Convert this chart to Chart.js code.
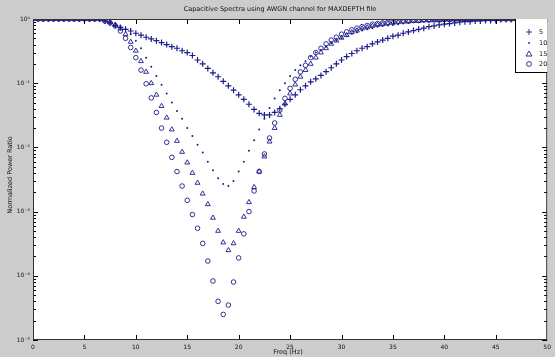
<!DOCTYPE html>
<html>
<head>
<meta charset="utf-8">
<script src="https://cdn.jsdelivr.net/npm/chart.js@4.4.0/dist/chart.umd.min.js"></script>
<style>
  html, body { margin: 0; padding: 0; background: #cccccc; }
</style>
</head>
<body>
<canvas id="specChart" width="555" height="357"></canvas>
<script>
// x positions (lag / frequency index)
const freq = [
  0, 0.5, 1, 1.5, 2, 2.5, 3, 3.5, 4, 4.5,
  5, 5.5, 6, 6.5, 7, 7.5, 8, 8.5, 9, 9.5,
  10, 10.5, 11, 11.5, 12, 12.5, 13, 13.5, 14, 14.5,
  15, 15.5, 16, 16.5, 17, 17.5, 18, 18.5, 19, 19.5,
  20, 20.5, 21, 21.5, 22, 22.5, 23, 23.5, 24, 24.5,
  25, 25.5, 26, 26.5, 27, 27.5, 28, 28.5, 29, 29.5,
  30, 30.5, 31, 31.5, 32, 32.5, 33, 33.5, 34, 34.5,
  35, 35.5, 36, 36.5, 37, 37.5, 38, 38.5, 39, 39.5,
  40, 40.5, 41, 41.5, 42, 42.5, 43, 43.5, 44, 44.5,
  45, 45.5, 46, 46.5, 47, 47.5, 48, 48.5, 49, 49.5,
  50
];

const snr5 = [
  1, 1, 1, 1, 1, 1, 1, 1, 1, 1,
  1, 1, 1, 1, 0.93, 0.87, 0.79, 0.74, 0.69, 0.65,
  0.60, 0.56, 0.52, 0.49, 0.46, 0.43, 0.40, 0.37, 0.35, 0.32,
  0.30, 0.27, 0.23, 0.20, 0.17, 0.145, 0.126, 0.107, 0.091, 0.078,
  0.066, 0.056, 0.047, 0.039, 0.034, 0.032, 0.032, 0.035, 0.040, 0.047,
  0.056, 0.066, 0.079, 0.091, 0.105, 0.117, 0.132, 0.151, 0.174, 0.20,
  0.23, 0.26, 0.29, 0.32, 0.35, 0.37, 0.41, 0.44, 0.47, 0.50,
  0.54, 0.56, 0.60, 0.63, 0.66, 0.69, 0.72, 0.76, 0.78, 0.81,
  0.83, 0.85, 0.87, 0.89, 0.91, 0.91, 0.93, 0.93, 0.95, 0.95,
  0.95, 0.98, 0.98, 0.98, 0.98, 0.98, 1, 1, 1, 1,
  1
];

const snr10 = [
  1, 1, 1, 1, 1, 1, 1, 1, 1, 1,
  1, 1, 1, 1, 0.95, 0.91, 0.85, 0.78, 0.69, 0.58,
  0.46, 0.35, 0.25, 0.18, 0.13, 0.095, 0.069, 0.050, 0.037, 0.028,
  0.020, 0.015, 0.011, 0.0083, 0.006, 0.0044, 0.0033, 0.0027, 0.0025, 0.003,
  0.0042, 0.006, 0.0089, 0.0129, 0.019, 0.028, 0.041, 0.058, 0.078, 0.10,
  0.13, 0.16, 0.19, 0.22, 0.26, 0.30, 0.33, 0.37, 0.42, 0.46,
  0.50, 0.54, 0.59, 0.62, 0.66, 0.69, 0.72, 0.76, 0.78, 0.79,
  0.81, 0.83, 0.85, 0.87, 0.89, 0.89, 0.91, 0.91, 0.93, 0.93,
  0.95, 0.95, 0.95, 0.95, 0.95, 0.95, 0.98, 0.98, 0.98, 0.98,
  0.98, 0.98, 1, 1, 1, 1, 1, 1, 1, 1,
  1
];

const snr15 = [
  1, 1, 1, 1, 1, 1, 1, 1, 1, 1,
  1, 1, 1, 1, 0.95, 0.89, 0.81, 0.71, 0.58, 0.44,
  0.32, 0.22, 0.15, 0.10, 0.066, 0.044, 0.029, 0.019, 0.0126, 0.0085,
  0.0058, 0.004, 0.0028, 0.0019, 0.0013, 0.0008, 0.0005, 0.00033, 0.00025, 0.00032,
  0.0005, 0.00083, 0.0014, 0.0024, 0.0042, 0.0072, 0.0123, 0.02, 0.032, 0.048,
  0.069, 0.095, 0.126, 0.16, 0.20, 0.25, 0.30, 0.35, 0.41, 0.46,
  0.51, 0.56, 0.62, 0.66, 0.71, 0.74, 0.78, 0.81, 0.83, 0.85,
  0.87, 0.89, 0.91, 0.91, 0.93, 0.93, 0.95, 0.95, 0.95, 0.95,
  0.98, 0.98, 0.98, 0.98, 0.98, 0.98, 1, 1, 1, 1,
  1, 1, 1, 1, 1, 1, 1, 1, 1, 1,
  1
];

const snr20 = [
  1, 1, 1, 1, 1, 1, 1, 1, 1, 1,
  1, 1, 1, 1, 0.93, 0.87, 0.78, 0.65, 0.50, 0.36,
  0.25, 0.16, 0.098, 0.059, 0.035, 0.020, 0.012, 0.007, 0.0042, 0.0025,
  0.0015, 0.0009, 0.00055, 0.00032, 0.00017, 0.000083, 0.00004, 0.000025, 0.000035, 0.00008,
  0.00019, 0.00045, 0.001, 0.0021, 0.0042, 0.0079, 0.014, 0.024, 0.038, 0.058,
  0.083, 0.115, 0.15, 0.19, 0.25, 0.30, 0.35, 0.41, 0.47, 0.52,
  0.58, 0.63, 0.68, 0.72, 0.76, 0.79, 0.83, 0.85, 0.87, 0.89,
  0.91, 0.93, 0.93, 0.95, 0.95, 0.95, 0.98, 0.98, 0.98, 0.98,
  0.98, 0.98, 1, 1, 1, 1, 1, 1, 1, 1,
  1, 1, 1, 1, 1, 1, 1, 1, 1, 1,
  1
];

const seriesNames = ['5', '10', '15', '20'];
const xTicks = [0, 5, 10, 15, 20, 25, 30, 35, 40, 45, 50];
const yTicks = [1, 0.1, 0.01, 0.001, 0.0001, 0.00001];
const yTickLabels = ['10\u2070', '10\u207B\u00B9', '10\u207B\u00B2', '10\u207B\u00B3', '10\u207B\u2074', '10\u207B\u2075'];

const markColor = '#1c1c8a';

function toPoints(values) {
  return freq.map((f, i) => ({ x: f, y: values[i] }));
}

// MATLAB-ish frame: grey figure, white axes, inward ticks, boxed legend
const matlabFrame = {
  id: 'matlabFrame',
  beforeDraw(chart) {
    const { ctx, chartArea: a } = chart;
    ctx.save();
    ctx.fillStyle = '#cccccc';
    ctx.fillRect(0, 0, chart.width, chart.height);
    ctx.fillStyle = '#ffffff';
    ctx.fillRect(a.left, a.top, a.right - a.left, a.bottom - a.top);
    ctx.restore();
  },
  afterDraw(chart) {
    const { ctx, chartArea: a, scales } = chart;
    const x = scales.x, y = scales.y;
    ctx.save();
    ctx.strokeStyle = '#000';
    ctx.lineWidth = 1;
    const seg = (x1, y1, x2, y2) => { ctx.beginPath(); ctx.moveTo(x1, y1); ctx.lineTo(x2, y2); ctx.stroke(); };

    xTicks.slice(1, -1).forEach(v => {
      const px = Math.round(x.getPixelForValue(v)) + 0.5;
      seg(px, a.bottom, px, a.bottom - 5);
      seg(px, a.top, px, a.top + 5);
    });
    for (let d = 0; d > -5; d--) {
      for (let m = 1; m < 10; m++) {
        const v = m * Math.pow(10, d - 1);
        if (v < 1e-5) continue;
        const py = Math.round(y.getPixelForValue(v)) + 0.5;
        const len = m === 1 ? 5 : 3;
        seg(a.left, py, a.left + len, py);
        seg(a.right, py, a.right - len, py);
      }
    }

    // box
    ctx.strokeStyle = '#333';
    ctx.strokeRect(a.left + 0.5, a.top + 0.5, a.right - a.left - 1, a.bottom - a.top - 1);

    // title and axis labels
    ctx.fillStyle = '#111';
    ctx.font = '6.5px "DejaVu Sans"';
    ctx.textAlign = 'center';
    ctx.textBaseline = 'middle';
    ctx.fillText('Capacitive Spectra using AWGN channel for MAXDEPTH file', 280, 9);
    ctx.fillText('Freq (Hz)', 288, 352);
    ctx.save();
    ctx.translate(10, 175);
    ctx.rotate(-Math.PI / 2);
    ctx.fillText('Normalized Power Ratio', 0, 0);
    ctx.restore();

    // legend
    const lx = 515, ly = a.top, lw = a.right - lx, lh = 53;
    ctx.fillStyle = '#ffffff';
    ctx.fillRect(lx, ly, lw, lh);
    ctx.strokeStyle = '#000';
    seg(lx + 0.5, ly, lx + 0.5, ly + lh);
    seg(lx, ly + lh + 0.5, a.right, ly + lh + 0.5);
    const rows = [32, 43, 54, 64];
    chart.data.datasets.forEach((ds, i) => {
      const cy = rows[i];
      ctx.strokeStyle = markColor;
      ctx.fillStyle = markColor;
      ctx.lineWidth = 0.9;
      const cx = 529;
      if (ds.pointStyle === 'cross') {
        seg(cx - 3, cy, cx + 3, cy);
        seg(cx, cy - 3, cx, cy + 3);
      } else if (ds.pointStyle === 'triangle') {
        ctx.beginPath();
        ctx.moveTo(cx, cy - 3); ctx.lineTo(cx + 3, cy + 2); ctx.lineTo(cx - 3, cy + 2); ctx.closePath();
        ctx.stroke();
      } else if (ds.pointRadius <= 1.2) {
        ctx.beginPath(); ctx.arc(cx, cy, 0.9, 0, Math.PI * 2); ctx.fill();
      } else {
        ctx.beginPath(); ctx.arc(cx, cy, 2.4, 0, Math.PI * 2); ctx.stroke();
      }
      ctx.fillStyle = '#111';
      ctx.font = '6.5px "DejaVu Sans"';
      ctx.textAlign = 'left';
      ctx.fillText(ds.label, 539, cy);
    });
    ctx.restore();
  }
};

const ctx = document.getElementById('specChart').getContext('2d');
const specChart = new Chart(ctx, {
  type: 'scatter',
  data: {
    datasets: [
      { label: seriesNames[0], data: toPoints(snr5), pointStyle: 'cross', pointRadius: 3, borderWidth: 1.2 },
      { label: seriesNames[1], data: toPoints(snr10), pointStyle: 'circle', pointRadius: 1, borderWidth: 0, backgroundColor: markColor },
      { label: seriesNames[2], data: toPoints(snr15), pointStyle: 'triangle', pointRadius: 2.8, borderWidth: 0.9, backgroundColor: 'rgba(0,0,0,0)' },
      { label: seriesNames[3], data: toPoints(snr20), pointStyle: 'circle', pointRadius: 2.3, borderWidth: 0.9, backgroundColor: 'rgba(0,0,0,0)' },
    ].map(ds => Object.assign({ borderColor: markColor, showLine: false, pointHoverRadius: 0 }, ds)),
  },
  options: {
    responsive: false,
    animation: false,
    devicePixelRatio: 1,
    layout: { padding: { top: 19, right: 5, left: 0, bottom: 0 } },
    plugins: {
      legend: { display: false },
      title: { display: false },
      tooltip: { enabled: false },
    },
    scales: {
      x: {
        type: 'linear',
        min: 0,
        max: 50,
        afterBuildTicks: scale => { scale.ticks = xTicks.map(v => ({ value: v })); },
        afterFit: scale => { scale.height = 17; },
        ticks: { font: { size: 6, family: 'DejaVu Sans' }, color: '#111', padding: 4, maxRotation: 0, autoSkip: false },
        grid: { display: false, drawTicks: false },
        border: { display: false },
      },
      y: {
        type: 'logarithmic',
        min: 0.00001,
        max: 1,
        afterBuildTicks: scale => { scale.ticks = yTicks.map(v => ({ value: v })); },
        afterFit: scale => { scale.width = 33; },
        ticks: {
          font: { size: 6, family: 'DejaVu Sans' },
          color: '#111',
          padding: 3,
          autoSkip: false,
          callback: (v) => yTickLabels[yTicks.indexOf(v)] || '',
        },
        grid: { display: false, drawTicks: false },
        border: { display: false },
      },
    },
  },
  plugins: [matlabFrame],
});
</script>
</body>
</html>
